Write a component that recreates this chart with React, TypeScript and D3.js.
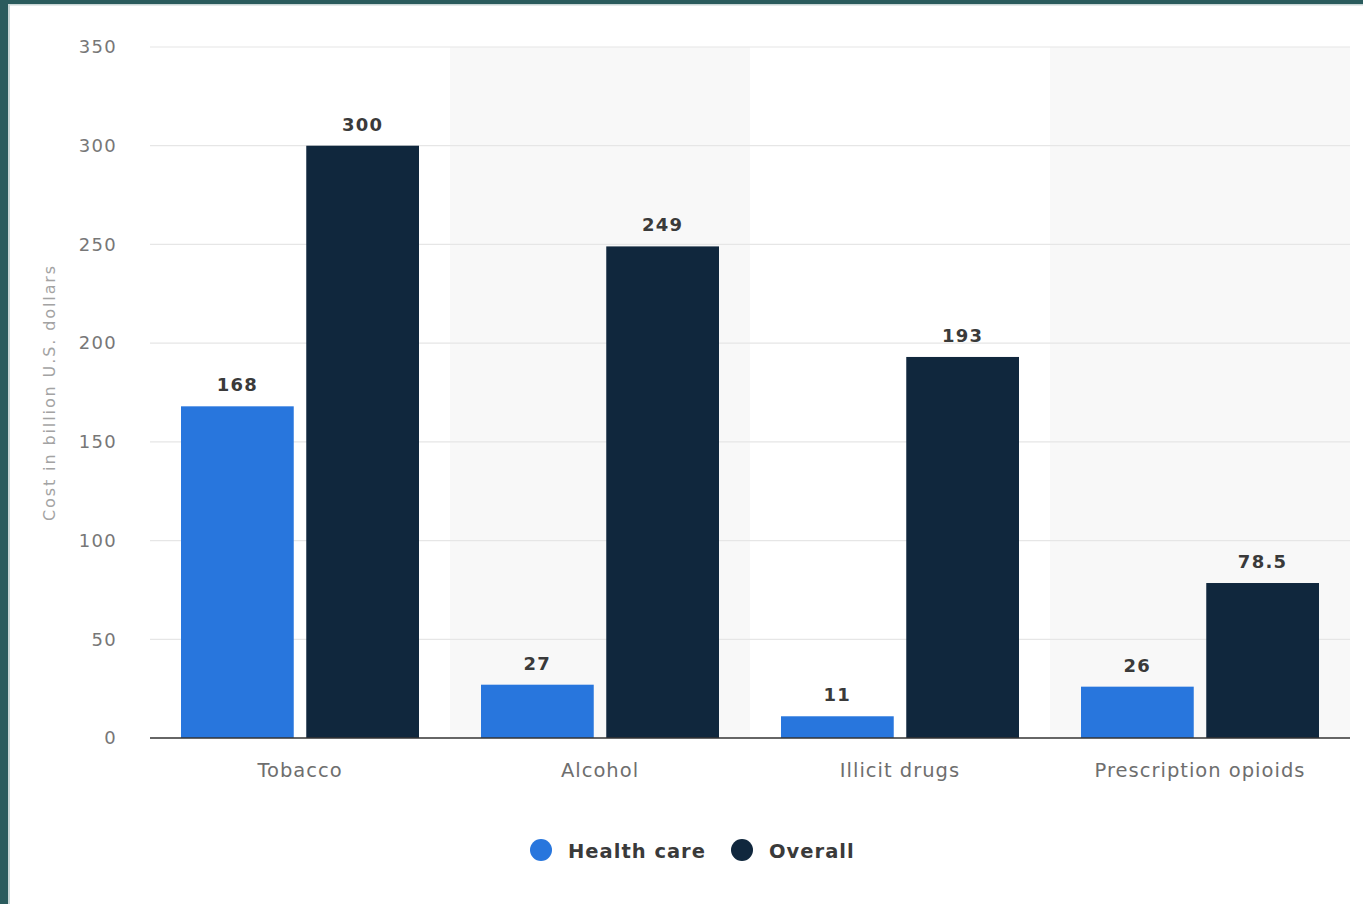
import React from "react";
import * as d3 from "d3";

const categories = ["Tobacco", "Alcohol", "Illicit drugs", "Prescription opioids"];
const seriesNames = ["Health care", "Overall"];
const healthCare = [168, 27, 11, 26];
const overall = [300, 249, 193, 78.5];
const yTicks = [0, 50, 100, 150, 200, 250, 300, 350];
const valueLabels = [
  ["168", "27", "11", "26"],
  ["300", "249", "193", "78.5"],
];

const W = 1363;
const H = 904;
const colors = ["#2876dd", "#10273d"];
const FONT = "'DejaVu Sans', Verdana, sans-serif";

export default function App() {
  const x0 = d3.scaleBand<string>().domain(categories).range([150, 1350]).padding(0);
  const x1 = d3
    .scaleBand<string>()
    .domain(seriesNames)
    .range([31, 269])
    .paddingInner(0.1);
  const y = d3.scaleLinear().domain([0, 350]).range([738, 47]);
  const series = [healthCare, overall];

  return (
    <svg
      width={W}
      height={H}
      style={{ position: "absolute", left: 0, top: 0, display: "block" }}
      fontFamily={FONT}
    >
      <rect x={0} y={0} width={W} height={H} fill="#ffffff" />
      {/* frame */}
      <rect x={0} y={0} width={W} height={4} fill="#2a5b5d" />
      <rect x={0} y={0} width={8} height={H} fill="#2a5b5d" />
      <rect x={8} y={4} width={2} height={H} fill="#c9d6d6" />
      <rect x={8} y={4} width={W} height={1.5} fill="#c9d6d6" />

      {/* alternating category bands */}
      {categories.map((c, i) =>
        i % 2 === 1 ? (
          <rect
            key={c}
            x={x0(c)!}
            y={y(350)}
            width={x0.bandwidth()}
            height={y(0) - y(350)}
            fill="#f8f8f8"
          />
        ) : null
      )}

      {/* gridlines + y ticks */}
      {yTicks.map((t) => (
        <g key={t}>
          {t > 0 && (
            <line x1={150} x2={1350} y1={y(t)} y2={y(t)} stroke="#e6e6e6" strokeWidth={1.2} />
          )}
          <text
            x={117}
            y={y(t)}
            dy="0.35em"
            textAnchor="end"
            fontSize={18}
            letterSpacing={1.3}
            fill="#777777"
          >
            {t}
          </text>
        </g>
      ))}

      <text
        transform={`translate(55, ${y(175)}) rotate(-90)`}
        textAnchor="middle"
        fontSize={16}
        letterSpacing={1.9}
        fill="#a3a3a3"
      >
        Cost in billion U.S. dollars
      </text>

      {/* bars */}
      {categories.map((c, ci) =>
        seriesNames.map((s, si) => {
          const v = series[si][ci];
          const bx = x0(c)! + x1(s)!;
          return (
            <g key={c + s}>
              <rect
                x={bx}
                y={y(v)}
                width={x1.bandwidth()}
                height={y(0) - y(v)}
                fill={colors[si]}
              />
              <text
                x={bx + x1.bandwidth() / 2}
                y={y(v) - 15}
                textAnchor="middle"
                fontSize={18}
                fontWeight={700}
                letterSpacing={1.3}
                fill="#3a3a3a"
              >
                {valueLabels[si][ci]}
              </text>
            </g>
          );
        })
      )}

      {/* baseline */}
      <line x1={150} x2={1350} y1={y(0)} y2={y(0)} stroke="#333333" strokeWidth={1.5} />

      {/* category labels */}
      {categories.map((c) => (
        <text
          key={c}
          x={x0(c)! + x0.bandwidth() / 2}
          y={777}
          textAnchor="middle"
          fontSize={19.5}
          letterSpacing={1}
          fill="#6e6e6e"
        >
          {c}
        </text>
      ))}

      {/* legend */}
      {seriesNames.map((s, i) => {
        const lx = [541, 742][i];
        return (
          <g key={s}>
            <circle cx={lx} cy={850} r={11} fill={colors[i]} />
            <text
              x={lx + 27}
              y={851}
              dy="0.35em"
              fontSize={19.5}
              fontWeight={700}
              letterSpacing={1}
              fill="#3a3a3a"
            >
              {s}
            </text>
          </g>
        );
      })}
    </svg>
  );
}
